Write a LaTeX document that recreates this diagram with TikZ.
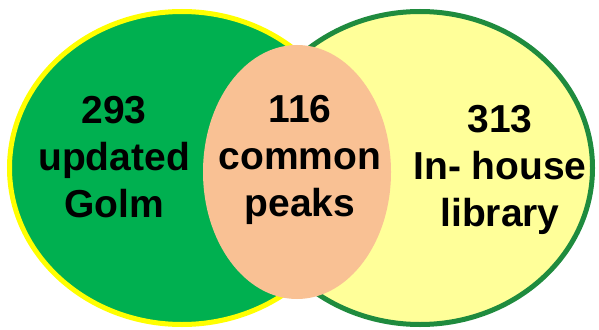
\documentclass[tikz,border=0pt]{standalone}
\usepackage{fontspec}
\setmainfont{Liberation Sans}
\definecolor{leftfill}{RGB}{0,176,80}
\definecolor{leftline}{RGB}{255,255,0}
\definecolor{rightfill}{RGB}{255,255,153}
\definecolor{rightline}{RGB}{31,139,62}
\definecolor{midfill}{RGB}{249,193,148}
\tikzset{
  lbl/.style={align=center, font=\fontsize{39}{47}\selectfont\bfseries, inner sep=0pt, text=black},
}
\begin{document}
\begin{tikzpicture}[x=1pt,y=-1pt]
\useasboundingbox (0,0) rectangle (599,329);
\fill[leftfill] (182,168) ellipse [x radius=172.5, y radius=156.5];
\draw[leftline, line width=5pt] (182,168) ellipse [x radius=172.5, y radius=156.5];
\filldraw[fill=rightfill, draw=rightline, line width=5pt] (420,168) ellipse [x radius=172.5, y radius=156.5];
\fill[midfill] (297,172) ellipse [x radius=94, y radius=127];
\node[lbl, anchor=base] (golm) at (114,217) {293\\updated\\Golm};
\node[lbl, anchor=base] (common) at (300,216) {116\\common\\peaks};
\node[lbl, anchor=base] (lib) at (500,226) {313\\In- house\\library};
\end{tikzpicture}
\end{document}
